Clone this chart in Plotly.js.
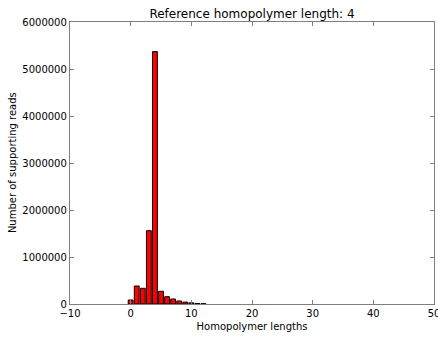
<!DOCTYPE html>
<html><head><meta charset="utf-8">
<script src="https://cdn.plot.ly/plotly-3.0.1.min.js"></script>
<style>html,body{margin:0;padding:0;background:#fff}#c{width:438px;height:338px}</style>
</head><body><div id="c"></div>
<script>
const lengths = [0,1,2,3,4,5,6,7,8,9,10,11,12];
const reads = [85000,383000,334000,1560000,5370000,270000,155000,106000,64000,40000,25000,12000,6000];
const titleText = "Reference homopolymer length: 4";
const xTitle = "Homopolymer lengths";
const yTitle = "Number of supporting reads";
const font = "DejaVu Sans, sans-serif";
Plotly.newPlot('c', [{
  type: 'bar', x: lengths, y: reads, width: 0.8,
  marker: {color: '#ff0000', line: {color: '#000000', width: 1}}
}], {
  width: 438, height: 338,
  margin: {l: 70, r: 4, t: 22, b: 34},
  paper_bgcolor: '#fff', plot_bgcolor: '#fff',
  font: {family: font, size: 10, color: '#000'},
  title: {text: titleText, font: {family: font, size: 12, color: '#000'}, xref: 'paper', x: 0.5, xanchor: 'center', y: 0.96, yanchor: 'middle'},
  showlegend: false,
  xaxis: {range: [-10, 50], tickvals: [-10,0,10,20,30,40,50], ticks: 'inside', ticklen: 4, tickcolor: '#7f7f7f',
    ticklabeloverflow: 'allow',
    showline: true, linecolor: '#7f7f7f', linewidth: 1.3, mirror: 'ticks', showgrid: false, zeroline: false,
    title: {text: xTitle, font: {family: font, size: 10, color: '#000'}, standoff: 4}},
  yaxis: {range: [0, 6000000], tickvals: [0,1000000,2000000,3000000,4000000,5000000,6000000], tickformat: 'd',
    ticks: 'inside', ticklen: 4, tickcolor: '#7f7f7f',
    showline: true, linecolor: '#7f7f7f', linewidth: 1.3, mirror: 'ticks', showgrid: false, zeroline: false},
  annotations: [{text: yTitle, textangle: -90, xref: 'paper', yref: 'paper', x: -0.159, y: 0.5,
    xanchor: 'center', yanchor: 'middle', showarrow: false, font: {family: font, size: 10, color: '#000'}}]
}, {displayModeBar: false});
</script></body></html>
